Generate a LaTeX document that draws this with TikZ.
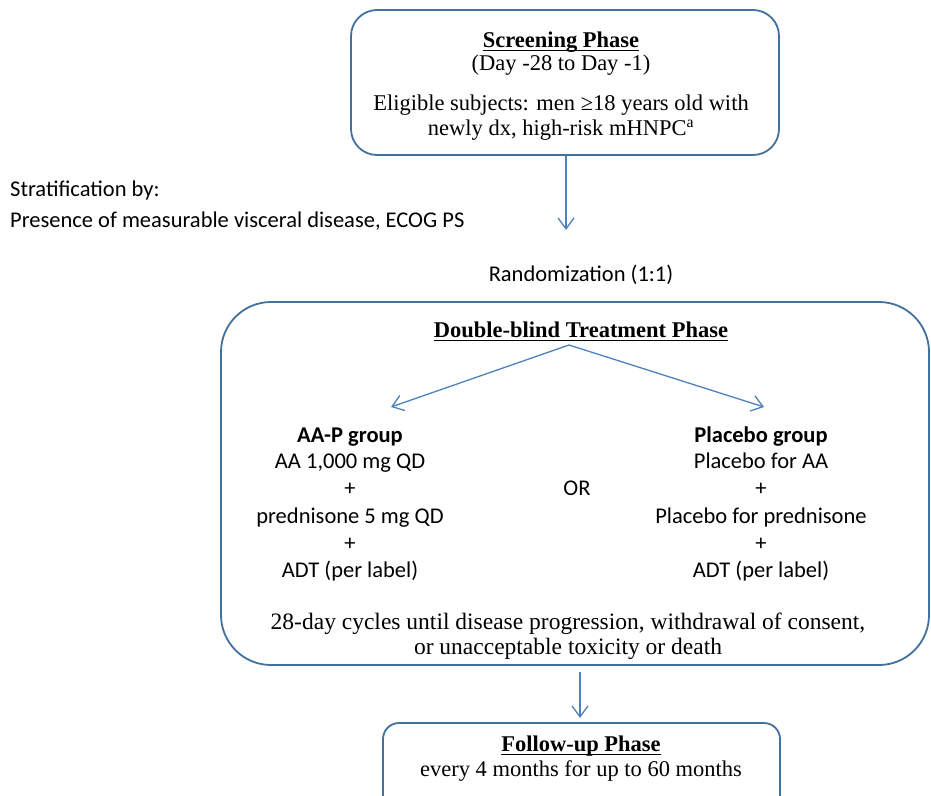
\documentclass[tikz,border=0pt]{standalone}
\usepackage{fontspec}
\setmainfont{Liberation Serif}
\newfontfamily\calfont{Carlito}
\usetikzlibrary{arrows.meta}
\definecolor{boxc}{HTML}{41719C}
\definecolor{arrc}{HTML}{4F81BD}
\tikzset{
  phasebox/.style={draw=boxc, line width=1.8pt, rounded corners=#1},
  arr/.style={draw=arrc, line width=1.3pt, -{Straight Barb[length=11pt,width=16pt,line width=1.3pt]}},
  serif/.style={font=\fontsize{22.5}{26}\selectfont, align=center, inner sep=0pt},
  sans/.style={font=\calfont\fontsize{22.5}{27}\selectfont, align=center, inner sep=0pt},
  uline/.style={draw=black, line width=1pt},
}
\begin{document}
\begin{tikzpicture}[x=1pt,y=-1pt]
\useasboundingbox[fill=white] (0,0) rectangle (931,795);
% boxes
\node[phasebox=26pt, minimum width=428pt, minimum height=145pt] (scr) at (565,82.5) {};
\node[phasebox=50pt, minimum width=708pt, minimum height=363pt] (dbt) at (575,483.5) {};
\node[phasebox=16pt, minimum width=397pt, minimum height=90pt] (fup) at (581.5,768) {};
% screening text
\node[serif, anchor=base] (s1) at (561,47) {\textbf{Screening Phase}};
\draw[uline] ([yshift=-3pt]s1.base west) -- ([yshift=-3pt]s1.base east);
\node[serif, anchor=base] (s2) at (561,70) {(Day -28 to Day -1)};
\node[serif, anchor=base] (s3) at (561,110) {Eligible subjects: men ≥18 years old with};
\node[serif, anchor=base] (s4) at (561,135) {newly dx, high-risk mHNPC\textsuperscript{a}};
% stratification
\node[sans, anchor=base west] (st1) at (10,196) {Stratification by:};
\node[sans, anchor=base west] (st2) at (10,227) {Presence of measurable visceral disease, ECOG PS};
\coordinate (rnd) at (566,230);
\node[sans, anchor=base] (rtxt) at (581,281) {Randomization (1:1)};
% treatment phase
\node[serif, anchor=base] (dtitle) at (581,337) {\textbf{Double-blind Treatment Phase}};
\draw[uline] ([yshift=-3pt]dtitle.base west) -- ([yshift=-3pt]dtitle.base east);
\coordinate (apex) at (569,345);
\coordinate (lt) at (391,407);
\coordinate (rt) at (764,407);
\node[sans, anchor=base] (l1) at (350,442) {\textbf{AA-P group}};
\node[sans, anchor=base] (l2) at (350,468) {AA 1,000 mg QD};
\node[sans, anchor=base] (l3) at (350,495) {+};
\node[sans, anchor=base] (l4) at (350,523) {prednisone 5 mg QD};
\node[sans, anchor=base] (l5) at (350,550) {+};
\node[sans, anchor=base] (l6) at (350,577) {ADT (per label)};
\node[sans, anchor=base] (or) at (577,495) {OR};
\node[sans, anchor=base] (r1) at (761,442) {\textbf{Placebo group}};
\node[sans, anchor=base] (r2) at (761,468) {Placebo for AA};
\node[sans, anchor=base] (r3) at (761,495) {+};
\node[sans, anchor=base] (r4) at (761,523) {Placebo for prednisone};
\node[sans, anchor=base] (r5) at (761,550) {+};
\node[sans, anchor=base] (r6) at (761,577) {ADT (per label)};
\node[serif, anchor=base, font=\fontsize{23.5}{26}\selectfont] (c1) at (568,629) {28-day cycles until disease progression, withdrawal of consent,};
\node[serif, anchor=base, font=\fontsize{23.5}{26}\selectfont] (c2) at (568,654) {or unacceptable toxicity or death};
% follow-up
\coordinate (fin) at (580,718);
\node[serif, anchor=base] (f1) at (581,751) {\textbf{Follow-up Phase}};
\draw[uline] ([yshift=-3pt]f1.base west) -- ([yshift=-3pt]f1.base east);
\node[serif, anchor=base] (f2) at (581,776) {every 4 months for up to 60 months};
% arrows
\draw[arr] (scr.south -| rnd) -- (rnd);
\draw[arr] (apex) -- (lt);
\draw[arr] (apex) -- (rt);
\draw[arr] (dbt.south -| fin) ++(0,6) -- (fin);
\end{tikzpicture}
\end{document}
